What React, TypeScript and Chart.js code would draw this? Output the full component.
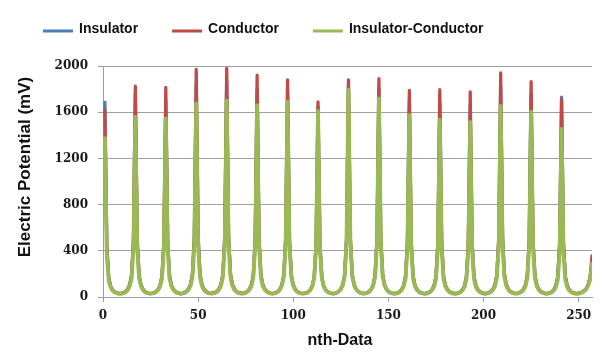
import React, { useEffect, useRef } from "react";
import { Chart, registerables } from "chart.js";

Chart.register(...registerables);

// ---------- data ----------
const seriesNames = ["Insulator", "Conductor", "Insulator-Conductor"];
const seriesColors = ["#4A7EBB", "#BE4B48", "#98B954"];
const yTickValues = [0, 400, 800, 1200, 1600, 2000];
const xTickValues = [0, 50, 100, 150, 200, 250];
const xTitle = "nth-Data";
const yTitle = "Electric Potential (mV)";

// nth-Data runs 1..257
const insulator = [
  1685, 455, 170, 95, 63, 45, 36, 32, 29, 32, 37, 48, 67, 102, 182, 477,
  1760, 476, 178, 100, 66, 47, 37, 32, 30, 32, 37, 47, 65, 98, 175, 460,
  1700, 460, 175, 98, 65, 47, 37, 32, 29, 32, 38, 49, 68, 104, 188, 500,
  1850, 500, 188, 104, 68, 49, 38, 33, 30, 33, 38, 49, 69, 106, 190, 508,
  1880, 508, 190, 106, 69, 49, 38, 33, 30, 32, 38, 48, 67, 102, 182, 486,
  1800, 486, 182, 102, 67, 48, 38, 32, 30, 32, 38, 48, 67, 102, 182, 486,
  1800, 486, 182, 102, 67, 48, 37, 32, 30, 32, 36, 46, 63, 95, 168, 446,
  1650, 446, 168, 95, 63, 46, 36, 32, 29, 32, 38, 49, 69, 104, 187, 497,
  1840, 497, 187, 104, 69, 49, 38, 33, 30, 32, 38, 49, 68, 103, 184, 489,
  1810, 489, 184, 103, 68, 49, 38, 32, 30, 32, 37, 47, 65, 98, 175, 460,
  1700, 460, 175, 98, 65, 47, 37, 32, 29, 32, 37, 46, 64, 97, 172, 454,
  1680, 454, 172, 97, 64, 46, 37, 32, 29, 31, 36, 46, 63, 96, 170, 448,
  1660, 448, 170, 96, 63, 46, 36, 32, 30, 32, 38, 49, 68, 103, 185, 492,
  1820, 492, 185, 103, 68, 49, 38, 32, 30, 32, 37, 47, 66, 100, 179, 476,
  1760, 476, 179, 100, 66, 47, 37, 32, 29, 32, 37, 47, 65, 99, 177, 467,
  1730, 467, 177, 99, 65, 47, 37, 32, 30, 32, 36, 44, 55, 72, 104, 160,
  300,
];

const conductor = [
  1615, 436, 165, 93, 62, 45, 37, 33, 31, 34, 39, 50, 70, 108, 190, 493,
  1825, 493, 186, 104, 68, 49, 39, 34, 32, 34, 39, 49, 68, 103, 185, 490,
  1815, 490, 185, 103, 68, 49, 39, 33, 30, 34, 40, 52, 73, 111, 200, 532,
  1970, 532, 200, 111, 73, 52, 40, 34, 32, 35, 40, 52, 73, 112, 201, 535,
  1980, 535, 201, 112, 73, 52, 40, 35, 33, 34, 40, 51, 71, 109, 195, 518,
  1920, 518, 195, 109, 71, 51, 40, 34, 31, 34, 39, 50, 70, 106, 191, 508,
  1880, 508, 191, 106, 70, 50, 39, 34, 31, 33, 38, 47, 65, 97, 172, 456,
  1690, 456, 172, 97, 65, 47, 38, 33, 31, 34, 39, 50, 70, 106, 191, 508,
  1880, 508, 191, 106, 70, 50, 39, 34, 32, 34, 39, 50, 70, 107, 192, 510,
  1890, 510, 192, 107, 70, 50, 39, 34, 31, 33, 38, 48, 67, 101, 182, 483,
  1790, 483, 182, 101, 67, 48, 38, 33, 30, 33, 38, 48, 67, 102, 182, 485,
  1795, 485, 182, 102, 67, 48, 38, 33, 31, 33, 38, 48, 66, 100, 180, 479,
  1775, 479, 180, 100, 66, 48, 38, 33, 31, 34, 40, 51, 72, 110, 197, 524,
  1940, 524, 197, 110, 72, 51, 40, 34, 31, 34, 39, 50, 69, 105, 189, 504,
  1865, 504, 189, 105, 69, 50, 39, 34, 31, 33, 37, 47, 65, 98, 174, 462,
  1710, 462, 174, 98, 65, 47, 38, 33, 31, 33, 37, 45, 57, 75, 110, 170,
  355,
];

const insulatorConductor = [
  1375, 372, 142, 84, 57, 42, 34, 30, 28, 30, 34, 43, 60, 92, 158, 421,
  1560, 424, 160, 91, 61, 44, 35, 31, 29, 31, 35, 44, 61, 90, 158, 418,
  1545, 417, 157, 90, 60, 44, 35, 31, 28, 31, 36, 46, 64, 96, 170, 452,
  1675, 452, 170, 96, 64, 46, 36, 31, 29, 31, 36, 46, 64, 97, 173, 459,
  1700, 459, 173, 97, 64, 46, 36, 32, 29, 31, 36, 45, 63, 95, 169, 448,
  1660, 448, 169, 95, 63, 45, 36, 31, 28, 31, 36, 46, 64, 96, 172, 456,
  1690, 456, 172, 96, 64, 46, 36, 31, 29, 31, 35, 45, 62, 92, 164, 435,
  1610, 435, 164, 92, 62, 45, 35, 31, 28, 32, 37, 49, 68, 102, 183, 485,
  1795, 485, 183, 102, 68, 48, 37, 32, 29, 31, 36, 47, 65, 98, 175, 464,
  1720, 464, 175, 98, 65, 47, 36, 31, 28, 30, 35, 44, 61, 90, 160, 425,
  1575, 425, 160, 90, 61, 44, 35, 31, 28, 30, 35, 44, 60, 88, 156, 414,
  1535, 414, 156, 88, 60, 44, 35, 30, 28, 30, 35, 43, 59, 87, 154, 409,
  1515, 409, 154, 87, 59, 43, 34, 30, 28, 31, 36, 46, 63, 95, 168, 447,
  1655, 447, 168, 95, 63, 46, 36, 31, 29, 31, 35, 45, 62, 92, 163, 433,
  1605, 433, 163, 92, 62, 45, 35, 31, 28, 30, 34, 42, 57, 84, 148, 393,
  1455, 393, 148, 84, 57, 42, 34, 30, 28, 30, 34, 41, 52, 68, 98, 150,
  290,
];

const seriesValues = [insulator, conductor, insulatorConductor];

// ---------- chart ----------
const SANS = "'Liberation Sans', Arial, sans-serif";
const TICK_FONT = "'DejaVu Serif', serif";

const decorPlugin = {
  id: "decor",
  afterDraw(chart: any) {
    const ctx = chart.ctx;
    ctx.save();
    // legend
    ctx.font = `bold 14px ${SANS}`;
    ctx.textBaseline = "middle";
    ctx.textAlign = "left";
    let x = 35;
    chart.data.datasets.forEach((ds: any) => {
      ctx.strokeStyle = ds.borderColor;
      ctx.lineWidth = 3;
      ctx.beginPath();
      ctx.moveTo(x, 23);
      ctx.lineTo(x + 30, 23);
      ctx.stroke();
      ctx.fillStyle = "#111";
      ctx.fillText(ds.label, x + 36, 21);
      x += 36 + ctx.measureText(ds.label).width + 34;
    });
    // axis titles
    ctx.fillStyle = "#111";
    ctx.textAlign = "center";
    ctx.font = `bold 16px ${SANS}`;
    ctx.fillText(xTitle, 332, 333);
    ctx.font = `bold 17px ${SANS}`;
    ctx.translate(17, 159);
    ctx.rotate(-Math.PI / 2);
    ctx.fillText(yTitle, 0, 0);
    ctx.restore();
  },
};

export default function App() {
  const canvasRef = useRef<HTMLCanvasElement | null>(null);

  useEffect(() => {
    if (!canvasRef.current) return;
    const drawOrder = [3, 2, 1];
    const lineWidths = [3.25, 3.25, 3.9];
    const chart = new Chart(canvasRef.current, {
      type: "line",
      data: {
        datasets: seriesNames.map((name, s) => ({
          label: name,
          data: seriesValues[s].map((v, i) => ({ x: i + 1, y: v })),
          borderColor: seriesColors[s],
          backgroundColor: seriesColors[s],
          borderWidth: lineWidths[s],
          pointRadius: 0,
          pointHoverRadius: 0,
          tension: 0,
          borderJoinStyle: "round" as const,
          borderCapStyle: "round" as const,
          fill: false,
          order: drawOrder[s],
        })),
      },
      options: {
        responsive: false,
        animation: false,
        events: [],
        layout: { padding: { top: 58, right: 13, bottom: 0, left: 0 } },
        plugins: {
          legend: { display: false },
          tooltip: { enabled: false },
        },
        scales: {
          x: {
            type: "linear",
            min: 0,
            max: 257,
            afterFit: (scale: any) => {
              scale.height = 59;
            },
            afterBuildTicks: (scale: any) => {
              scale.ticks = xTickValues.map((v) => ({ value: v }));
            },
            ticks: {
              includeBounds: false,
              padding: 7,
              color: "#1a1a1a",
              font: { family: TICK_FONT, size: 12, weight: "bold" },
              callback: (v: any) => String(v),
              maxRotation: 0,
            },
            grid: {
              display: true,
              drawOnChartArea: false,
              drawTicks: true,
              tickLength: 5,
              color: "#9A9AB4",
            },
            border: { display: true, color: "#9A9AB4", width: 1 },
          },
          y: {
            min: 0,
            max: 2000,
            afterFit: (scale: any) => {
              scale.width = 95;
            },
            afterBuildTicks: (scale: any) => {
              scale.ticks = yTickValues.map((v) => ({ value: v }));
            },
            ticks: {
              padding: 10,
              color: "#1a1a1a",
              font: { family: TICK_FONT, size: 12, weight: "bold" },
              callback: (v: any) => String(v),
            },
            grid: {
              color: "#A0A0A0",
              lineWidth: 1,
              drawTicks: true,
              tickLength: 5,
            },
            border: { display: true, color: "#9A9AB4", width: 1 },
          },
        },
      },
      plugins: [decorPlugin],
    });
    return () => chart.destroy();
  }, []);

  return (
    <div style={{ width: 597, height: 348 }}>
      <canvas ref={canvasRef} width={597} height={348} />
    </div>
  );
}
